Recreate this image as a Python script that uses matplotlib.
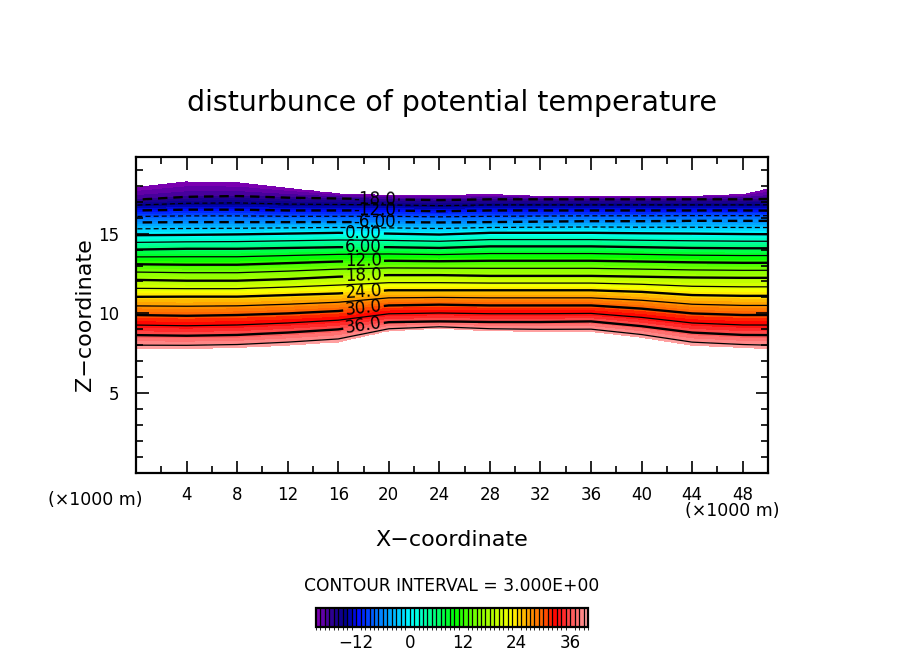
import numpy as np
import matplotlib
matplotlib.use('Agg')
import matplotlib.pyplot as plt
from matplotlib.colors import LinearSegmentedColormap, BoundaryNorm

# ---------------- data ----------------
# x stations (x1000 m)
x_km = [0, 4, 8, 12, 16, 20, 24, 28, 32, 36, 40, 44, 48, 50]
# heights (x1000 m) of selected values of the field at the stations
z_top_m21 = [17.9, 18.25, 18.2, 17.85, 17.5, 17.4, 17.4, 17.45, 17.35, 17.35, 17.35, 17.35, 17.45, 17.8]
z_m18 = [17.12, 17.3, 17.35, 17.25, 17.2, 17.15, 17.1, 17.15, 17.15, 17.15, 17.15, 17.15, 17.15, 17.17]
z_m12 = [16.45, 16.5, 16.5, 16.45, 16.45, 16.45, 16.4, 16.45, 16.45, 16.45, 16.45, 16.45, 16.45, 16.44]
z_m6 = [15.7, 15.72, 15.72, 15.72, 15.72, 15.72, 15.7, 15.72, 15.75, 15.78, 15.78, 15.8, 15.8, 15.8]
z_0 = [14.9, 14.92, 14.95, 15.0, 15.05, 15.0, 14.94, 15.05, 15.05, 15.05, 15.02, 15.0, 14.97, 14.96]
z_6 = [14.0, 14.05, 14.05, 14.1, 14.15, 14.15, 14.1, 14.2, 14.2, 14.2, 14.15, 14.1, 14.08, 14.08]
z_12 = [13.08, 13.05, 13.05, 13.15, 13.25, 13.3, 13.27, 13.3, 13.3, 13.3, 13.25, 13.2, 13.17, 13.17]
z_18 = [12.1, 12.05, 12.05, 12.15, 12.3, 12.4, 12.4, 12.35, 12.35, 12.35, 12.3, 12.25, 12.23, 12.23]
z_24 = [11.04, 11.05, 11.05, 11.15, 11.25, 11.45, 11.45, 11.45, 11.45, 11.45, 11.35, 11.15, 11.1, 11.1]
z_30 = [9.9, 9.85, 9.9, 10.0, 10.15, 10.5, 10.55, 10.5, 10.5, 10.5, 10.3, 10.0, 9.9, 9.9]
z_36 = [8.64, 8.6, 8.65, 8.8, 9.0, 9.45, 9.5, 9.46, 9.46, 9.5, 9.2, 8.8, 8.65, 8.64]
z_bot_40 = [7.8, 7.8, 7.85, 8.0, 8.2, 8.9, 9.05, 8.9, 8.85, 8.85, 8.5, 8.0, 7.85, 7.8]
field_values = [40, 36, 30, 24, 18, 12, 6, 0, -6, -12, -18, -21]

x_ticks = [4, 8, 12, 16, 20, 24, 28, 32, 36, 40, 44, 48]
z_ticks = [5, 10, 15]
cbar_ticks = [-12, 0, 12, 24, 36]

# colour scale anchors (value, colour)
cmap_vals = [-21, -18, -15, -12, -8, -3, 0, 3, 6, 10, 15, 20, 23, 26, 30, 33, 36, 40]
cmap_cols = ['#7a00b0', '#2a0090', '#00008c', '#0010ff', '#0070ff', '#00c8ff', '#00ffff',
             '#00ffb0', '#00ff70', '#00ff00', '#80ff00', '#c8ff00', '#ffff00', '#ffb000',
             '#ff6000', '#ff0000', '#ff4848', '#ffa0a0']

# ---------------- build the gridded field ----------------
heights = np.array([z_bot_40, z_36, z_30, z_24, z_18, z_12, z_6, z_0, z_m6, z_m12, z_m18, z_top_m21])
xg = np.linspace(0, 50, 251)
zg = np.linspace(0, 20, 801)
H = np.array([np.interp(xg, x_km, h) for h in heights])  # (nlev, nx)
F = np.full((zg.size, xg.size), np.nan)
for j in range(xg.size):
    col = H[:, j]
    F[:, j] = np.interp(zg, col, field_values, left=np.nan, right=np.nan)
F = np.ma.masked_invalid(F)

lo, hi = min(cmap_vals), max(cmap_vals)
cmap = LinearSegmentedColormap.from_list(
    'gfd', [((v - lo) / (hi - lo), c) for v, c in zip(cmap_vals, cmap_cols)], N=256)
fill_levels = np.arange(-21, 41, 1)
norm = BoundaryNorm(fill_levels, cmap.N)

# ---------------- figure ----------------
fig = plt.figure(figsize=(9.04, 6.54), dpi=100)
ax = fig.add_axes([136 / 904, 1 - 473 / 654, (768 - 136) / 904, (473 - 157) / 654])

cf = ax.contourf(xg, zg, F, levels=fill_levels, cmap=cmap, norm=norm)

thin_lv = [v for v in range(-15, 40, 3) if v % 6 != 0]
thick_lv = [v for v in range(-18, 40, 6)]
dash = (0, (4, 2.5))
ax.contour(xg, zg, F, levels=thin_lv, colors='k', linewidths=0.9,
           linestyles=[dash if v < 0 else 'solid' for v in thin_lv])
cs = ax.contour(xg, zg, F, levels=thick_lv, colors='k', linewidths=1.7,
                linestyles=[dash if v < 0 else 'solid' for v in thick_lv])

lab_pos = []
for v in thick_lv:
    lx = 18.9 if v < 0 else 18.0
    hz = np.array([np.interp(lx, x_km, h) for h in heights])
    lab_pos.append((lx, np.interp(v, field_values[::-1], hz[::-1])))
ax.clabel(cs, levels=thick_lv, manual=lab_pos, inline=True, fmt='%#.3g',
          fontsize=12, colors='k', inline_spacing=2)

ax.set_xlim(0, 50)
ax.set_ylim(0, 19.8)
ax.set_xticks(x_ticks)
ax.set_xticks(np.arange(2, 50, 2), minor=True)
ax.set_yticks(z_ticks)
ax.set_yticks(np.arange(1, 20, 1), minor=True)
ax.tick_params(which='both', direction='in', top=True, right=True, width=1.2, labelsize=12)
ax.tick_params(which='major', length=9)
ax.tick_params(which='minor', length=5)
ax.tick_params(axis='x', which='major', pad=9)
ax.tick_params(axis='y', which='major', pad=12)
for s in ax.spines.values():
    s.set_linewidth(1.6)

fig.text(0.5, 1 - 103 / 654, 'disturbunce of potential temperature', ha='center', va='center', fontsize=20.5)
fig.text(452 / 904, 1 - 540 / 654, 'X\u2212coordinate', ha='center', va='center', fontsize=16)
fig.text(85 / 904, 1 - 315 / 654, 'Z\u2212coordinate', ha='center', va='center', rotation=90, fontsize=16)
fig.text(95 / 904, 1 - 500 / 654, '(\u00d71000 m)', ha='center', va='center', fontsize=12.5)
fig.text(732 / 904, 1 - 511 / 654, '(\u00d71000 m)', ha='center', va='center', fontsize=12.5)
fig.text(452 / 904, 1 - 586 / 654, 'CONTOUR INTERVAL = 3.000E+00', ha='center', va='center', fontsize=12.3)

cax = fig.add_axes([316 / 904, 1 - 627 / 654, (588 - 316) / 904, 19 / 654])
cb = fig.colorbar(cf, cax=cax, orientation='horizontal', drawedges=True, ticks=cbar_ticks)
cb.dividers.set_linewidth(0.9)
cb.outline.set_linewidth(1.6)
cax.tick_params(length=0, labelsize=12, pad=5)
cax.set_xticklabels(['\u221212', '0', '12', '24', '36'])

fig.savefig('out.png', dpi=100)
